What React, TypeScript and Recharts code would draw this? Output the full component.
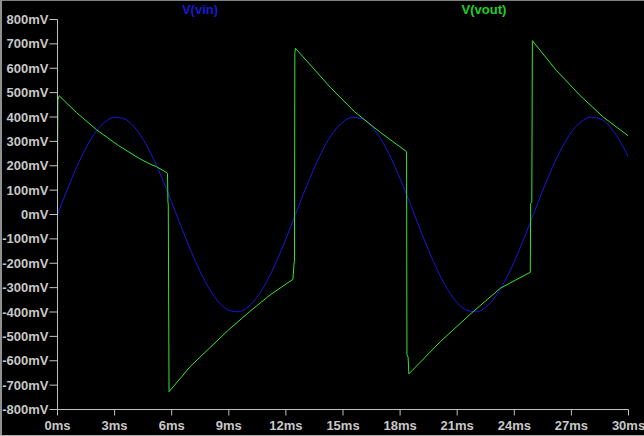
import { LineChart, Line, XAxis, YAxis } from "recharts";

// time axis (ms) and sampled values (mV)
const vinTime = [
  0, 0.5, 1, 1.5, 2, 2.5, 3, 3.5, 4, 4.5, 5, 5.5, 6, 6.5, 7, 7.5, 8, 8.5, 9, 9.5,
  10, 10.5, 11, 11.5, 12, 12.5, 13, 13.5, 14, 14.5, 15, 15.5, 16, 16.5, 17, 17.5,
  18, 18.5, 19, 19.5, 20, 20.5, 21, 21.5, 22, 22.5, 23, 23.5, 24, 24.5, 25, 25.5,
  26, 26.5, 27, 27.5, 28, 28.5, 29, 29.5, 30,
];
const vinMv = [
  0, 100, 193, 274, 338, 380, 399, 393, 362, 308, 235, 147, 50, -50, -147, -235,
  -308, -362, -393, -399, -380, -338, -274, -193, -100, 0, 100, 193, 274, 338,
  380, 399, 393, 362, 308, 235, 147, 50, -50, -147, -235, -308, -362, -393, -399,
  -380, -338, -274, -193, -100, 0, 100, 193, 274, 338, 380, 399, 393, 362, 308,
  235,
];

const voutTime = [
  0, 0.02, 0.09, 1.0, 2.06, 3.2, 4.34, 4.86, 5.2, 5.65, 5.78, 5.8, 5.82, 5.86,
  6.97, 8.0, 8.98, 10.1, 11.17, 12.37, 12.43, 12.45, 12.47, 12.5, 14.33, 15.6,
  16.96, 18.34, 18.36, 18.42, 18.46, 20.11, 21.7, 23.26, 24.14, 24.84, 24.86,
  24.92, 24.95, 26.2, 27.47, 28.7, 30,
];
const voutMv = [
  155, 470, 487, 418, 347, 283, 228, 207, 196, 176, 169, 55, 40, -727, -624, -547,
  -474, -398, -330, -266, -199, -190, 660, 682, 522, 422, 337, 258, -576, -585,
  -654, -522, -408, -303, -266, -237, 46, 50, 713, 592, 487, 398, 322,
];

const yTicks = [
  -800, -700, -600, -500, -400, -300, -200, -100, 0, 100, 200, 300, 400, 500,
  600, 700, 800,
];
const xTicks = [0, 3, 6, 9, 12, 15, 18, 21, 24, 27, 30];

const vinData = vinTime.map((t, i) => ({ t, v: vinMv[i] }));
const voutData = voutTime.map((t, i) => ({ t, v: voutMv[i] }));

const FRAME = "#c0c0c0";
const FONT = "'Liberation Sans', Arial, sans-serif";
const tickStyle = {
  fill: "#c8c8c8",
  fontSize: 13,
  fontWeight: 700,
  fontFamily: FONT,
};

export default function App() {
  return (
    <div
      style={{
        position: "absolute",
        left: 0,
        top: 0,
        width: 644,
        height: 436,
        background: "#000",
        fontFamily: FONT,
        overflow: "hidden",
      }}
    >
      <LineChart
        width={644}
        height={436}
        margin={{ top: 19.5, right: 15.5, bottom: 0, left: 0 }}
      >
        <XAxis
          dataKey="t"
          type="number"
          domain={[0, 30]}
          ticks={xTicks}
          tickFormatter={(v) => `${v}ms`}
          height={26.5}
          stroke={FRAME}
          tickSize={6}
          tickMargin={5}
          tick={tickStyle}
          interval={0}
          allowDataOverflow
        />
        <XAxis
          xAxisId="top"
          orientation="top"
          type="number"
          domain={[0, 30]}
          height={0}
          stroke={FRAME}
          tick={false}
          tickLine={false}
        />
        <YAxis
          type="number"
          domain={[-800, 800]}
          ticks={yTicks}
          tickFormatter={(v) => `${v}mV`}
          width={57.5}
          stroke={FRAME}
          tickSize={8}
          tickMargin={1}
          tick={tickStyle}
          interval={0}
          allowDataOverflow
        />
        <YAxis
          yAxisId="r"
          orientation="right"
          type="number"
          domain={[-800, 800]}
          width={0}
          stroke={FRAME}
          tick={false}
          tickLine={false}
        />
        <Line
          data={vinData}
          dataKey="v"
          type="monotone"
          stroke="#1818d8"
          strokeWidth={1}
          dot={false}
          isAnimationActive={false}
        />
        <Line
          data={voutData}
          dataKey="v"
          type="linear"
          stroke="#33e633"
          strokeWidth={1}
          dot={false}
          isAnimationActive={false}
        />
      </LineChart>
      <div
        style={{
          position: "absolute",
          top: 2,
          left: 200,
          transform: "translateX(-50%)",
          color: "#1a1ad0",
          fontSize: 13,
          fontWeight: 700,
          whiteSpace: "nowrap",
        }}
      >
        V(vin)
      </div>
      <div
        style={{
          position: "absolute",
          top: 2,
          left: 484,
          transform: "translateX(-50%)",
          color: "#22d022",
          fontSize: 13,
          fontWeight: 700,
          whiteSpace: "nowrap",
        }}
      >
        V(vout)
      </div>
      <div style={{ position: "absolute", left: 0, top: 0, width: 644, height: 1, background: "#808080" }} />
      <div style={{ position: "absolute", left: 0, top: 0, width: 2, height: 436, background: "#909090" }} />
      <div style={{ position: "absolute", left: 0, top: 435, width: 644, height: 1, background: "#b0b0b0" }} />
    </div>
  );
}
